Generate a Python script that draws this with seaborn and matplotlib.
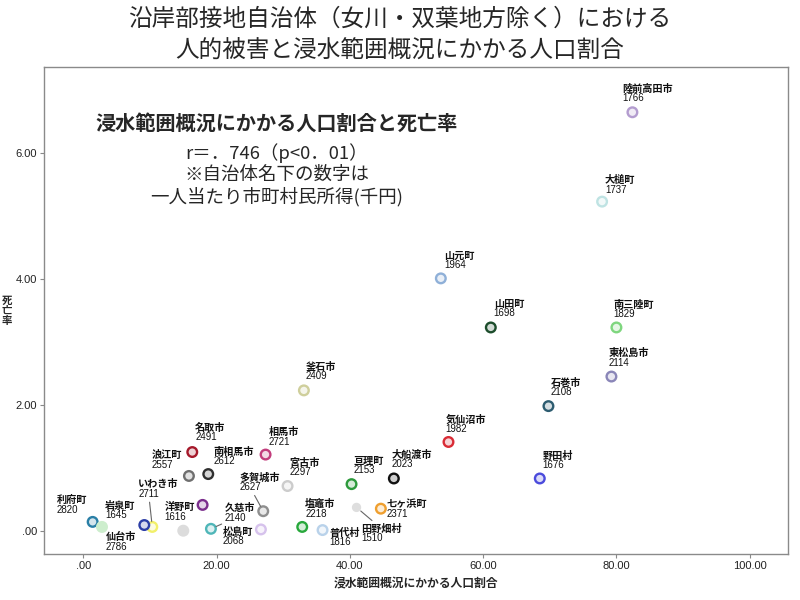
import matplotlib
matplotlib.use('Agg')
import matplotlib.pyplot as plt
import matplotlib.colors as mcolors
import seaborn as sns
import pandas as pd

# data
names = ['陸前高田市', '大槌町', '山元町', '山田町', '南三陸町', '東松島市', '石巻市', '気仙沼市',
         '野田村', '釜石市', '大船渡市', '亘理町', '七ヶ浜町', '田野畑村', '普代村', '塩竈市',
         '宮古市', '相馬市', '多賀城市', '久慈市', '松島町', '南相馬市', '名取市', '浪江町',
         '洋野町', 'いわき市', '岩泉町', '利府町', '仙台市', '']
income = [1766, 1737, 1964, 1698, 1829, 2114, 2108, 1982,
          1676, 2409, 2023, 2153, 2371, 1510, 1816, 2218,
          2297, 2721, 2627, 2140, 2068, 2612, 2491, 2557,
          1616, 2711, 1645, 2820, 2786, None]
flood_pct = [82.4, 77.85, 53.65, 61.15, 80.0, 79.25, 69.8, 54.8,
             68.5, 33.1, 46.6, 40.25, 44.65, 41.0, 35.9, 32.85,
             30.65, 27.35, 27.0, 19.15, 26.65, 18.75, 16.35, 15.85,
             15.0, 10.35, 9.15, 1.4, 2.8, 17.9]
death_rate = [6.65, 5.23, 4.01, 3.23, 3.23, 2.45, 1.98, 1.41,
              0.83, 2.23, 0.83, 0.74, 0.35, 0.37, 0.01, 0.06,
              0.71, 1.21, 0.31, 0.03, 0.02, 0.90, 1.25, 0.87,
              0.0, 0.06, 0.09, 0.14, 0.06, 0.41]

# styling
edge_colors = ['#b39ccf', '#bfe3e3', '#8fb0d8', '#1d4d2c', '#7ed67e', '#8a86b8', '#2d5c70', '#d92b35',
               '#4b4bdc', '#cfcf9c', '#111111', '#2d9a3c', '#ef9f2f', '#dedede', '#b9d2ea', '#28a83c',
               '#cccccc', '#c23c7c', '#8e8e8e', '#4fb6b8', '#d6c2ec', '#2f2f2f', '#a5182a', '#6f6f6f',
               '#dcdcdc', '#f2f06a', '#2c3ea6', '#2a7fa6', '#cdeecd', '#7a2d8c']
solid = {'洋野町', '田野畑村', '仙台市'}
small = {'田野畑村'}
leader_name = {'田野畑村'}            # leader line drawn from the name line
leader_num = {'多賀城市', '久慈市', 'いわき市'}   # leader line drawn from the number line

# label offsets from the point, in pixels (left/bottom of the two-line label)
offsets = {
    '陸前高田市': (-10, 9), '大槌町': (3, 7), '山元町': (3, 8), '山田町': (3, 9),
    '南三陸町': (-3, 8), '東松島市': (-3, 9), '石巻市': (2, 9), '気仙沼市': (-3, 8),
    '野田村': (3, 8), '釜石市': (2, 9), '大船渡市': (-2, 9), '亘理町': (2, 9),
    '七ヶ浜町': (6, -10), '田野畑村': (5, -36), '普代村': (7, -17), '塩竈市': (3, 8),
    '宮古市': (2, 9), '相馬市': (3, 8), '多賀城市': (-24, 19), '久慈市': (14, 6),
    '松島町': (-38, -17), '南相馬市': (5, 8), '名取市': (3, 10), '浪江町': (-37, 6),
    '洋野町': (-19, 9), 'いわき市': (-14, 28), '岩泉町': (-39, 5), '利府町': (-36, 7),
    '仙台市': (4, -25),
}

df = pd.DataFrame({'x': flood_pct, 'y': death_rate, 'name': names})

face_colors = []
for n, c in zip(names, edge_colors):
    if n in solid:
        face_colors.append(c)
    else:
        rgb = mcolors.to_rgb(c)
        face_colors.append(tuple(0.8 + 0.2 * v for v in rgb))
sizes = [25 if n in small else 48 for n in names]

sns.set_style('ticks')
plt.rcParams['font.family'] = ['Liberation Sans', 'Noto Sans CJK JP']

fig = plt.figure(figsize=(8, 6), dpi=100)
ax = fig.add_axes([0.055, 0.0767, 0.9296, 0.8117])

sns.scatterplot(data=df, x='x', y='y', ax=ax, legend=False, s=48, linewidth=1.7,
                color='white', zorder=3)
pts = ax.collections[0]
pts.set_edgecolors(edge_colors)
pts.set_facecolors(face_colors)
pts.set_sizes(sizes)

px = 0.72  # pixels -> points at 100 dpi
line_arrow = dict(arrowstyle='-', color='#666666', lw=0.8, shrinkA=0, shrinkB=4)
for x, y, n, inc in zip(flood_pct, death_rate, names, income):
    if not n:
        continue
    dx, dy = offsets[n]
    ax.annotate(str(inc), (x, y), xytext=(dx * px, dy * px), textcoords='offset points',
                ha='left', va='bottom', fontsize=7, color='#111111',
                arrowprops=line_arrow if n in leader_num else None, zorder=4)
    ax.annotate(n, (x, y), xytext=(dx * px, (dy + 9.5) * px), textcoords='offset points',
                ha='left', va='bottom', fontsize=7.3, fontweight='bold', color='#111111',
                arrowprops=line_arrow if n in leader_name else None, zorder=4)

ax.set_xlim(-5.9, 105.7)
ax.set_ylim(-0.37, 7.37)
ax.set_xticks([0, 20, 40, 60, 80, 100])
ax.set_xticklabels(['.00', '20.00', '40.00', '60.00', '80.00', '100.00'])
ax.set_yticks([0, 2, 4, 6])
ax.set_yticklabels(['.00', '2.00', '4.00', '6.00'])
ax.tick_params(direction='out', length=3, width=0.8, color='#888888', labelsize=8,
               labelcolor='#222222', pad=2)
for sp in ax.spines.values():
    sp.set_visible(True)
    sp.set_color('#8a8a8a')
    sp.set_linewidth(1.0)
ax.set_xlabel('')
ax.set_ylabel('')

# annotation box text
ax.text(0.313, 0.884, '浸水範囲概況にかかる人口割合と死亡率', transform=ax.transAxes,
        ha='center', va='center', fontsize=14.5, fontweight='bold', family=['Noto Sans CJK JP'])
ax.text(0.313, 0.778, 'r＝．746（p<0．01）\n※自治体名下の数字は\n一人当たり市町村民所得(千円)',
        transform=ax.transAxes, ha='center', va='center', fontsize=13.3, linespacing=1.2,
        family=['Noto Sans CJK JP'])

fig.text(0.5, 1 - 35 / 600, '沿岸部接地自治体（女川・双葉地方除く）における\n人的被害と浸水範囲概況にかかる人口割合',
         ha='center', va='center', fontsize=17, linespacing=1.5, family=['Noto Sans CJK JP'])
fig.text(0.52, 1 - 583 / 600, '浸水範囲概況にかかる人口割合', ha='center', va='center',
         fontsize=8.5, fontweight='bold')
fig.text(0.009, 1 - 311 / 600, '死\n亡\n率', ha='center', va='center', fontsize=7.5,
         fontweight='bold', linespacing=1.0)

fig.savefig('out.png', dpi=100)
